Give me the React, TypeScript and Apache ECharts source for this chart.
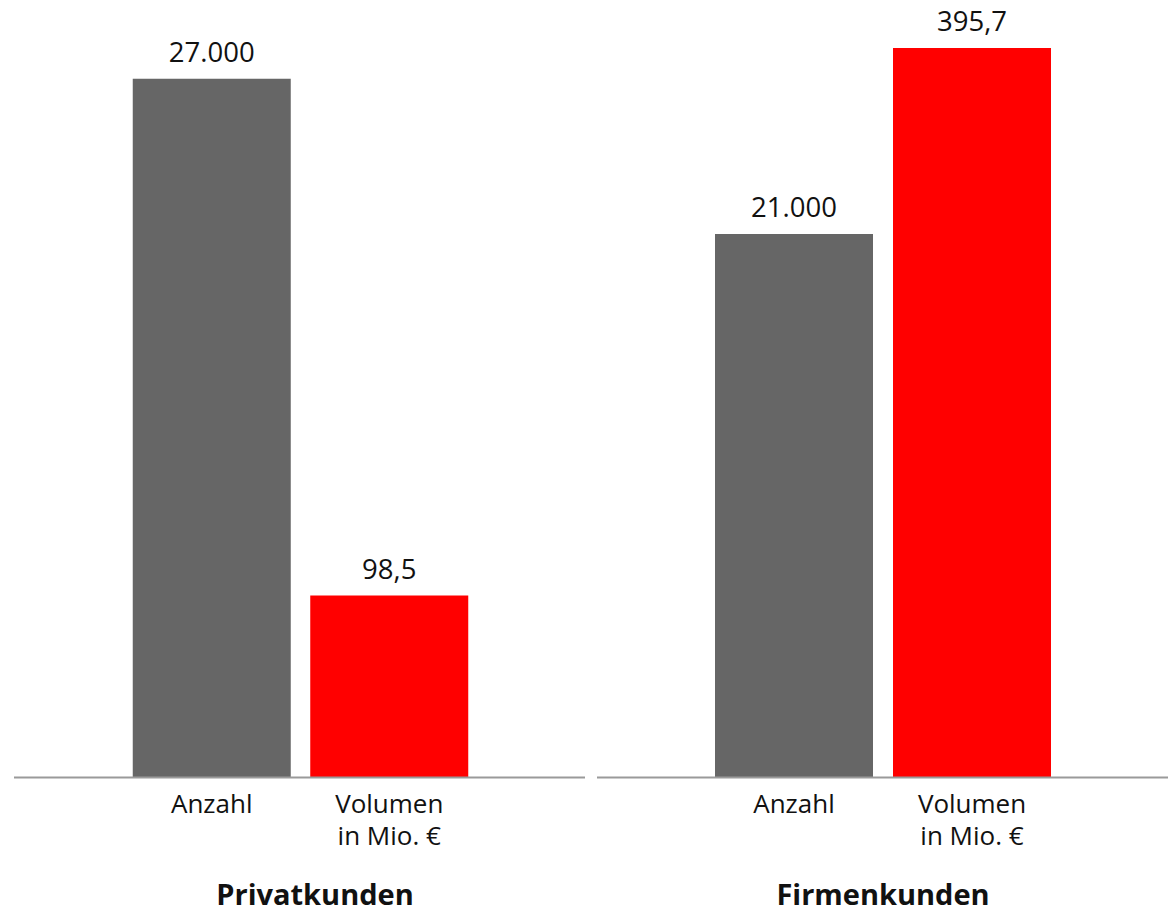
import React, { useEffect, useRef } from "react";
import * as echarts from "echarts";

const panels = ["Privatkunden", "Firmenkunden"];
const categories = ["Anzahl", "Volumen\nin Mio. €"];
const anzahl = [27000, 21000];
const volumen = [98.5, 395.7];
const anzahlMax = 28500;
const volumenMax = 400;

const FONT = "'Open Sans', 'Noto Sans', sans-serif";

const fmtAnzahl = (v: number) => String(Math.round(v)).replace(/\B(?=(\d{3})+(?!\d))/g, ".");
const fmtVol = (v: number) => v.toFixed(1).replace(".", ",");

export default function App() {
  const ref = useRef<HTMLDivElement>(null);
  useEffect(() => {
    document.body.style.margin = "0";
    if (!ref.current) return;
    const chart = echarts.init(ref.current, null, { renderer: "svg" });
    const gridLefts = [123, 705];
    const gridW = [355, 356];
    const titleCenters = [315, 883];
    const axisSpans = [
      [14, 585],
      [597, 1168],
    ];
    const grids = panels.map((_, i) => ({ left: gridLefts[i], width: gridW[i], top: 40, bottom: 138 }));
    const xAxes = panels.map((_, i) => ({
      type: "category",
      gridIndex: i,
      data: categories,
      axisLine: { show: false },
      axisTick: { show: false },
      axisLabel: { fontFamily: FONT, fontSize: 26, color: "#111", lineHeight: 32, margin: 10 },
    }));
    const yAxes: any[] = [];
    panels.forEach((_, i) => {
      yAxes.push({ type: "value", gridIndex: i, min: 0, max: anzahlMax, show: false, splitLine: { show: false } });
      yAxes.push({ type: "value", gridIndex: i, min: 0, max: volumenMax, show: false, splitLine: { show: false } });
    });
    const labelBase = {
      show: true,
      position: "top",
      distance: 13,
      fontFamily: FONT,
      fontSize: 27.5,
      color: "#111",
    };
    const series: any[] = [];
    panels.forEach((_, i) => {
      series.push({
        type: "bar",
        xAxisIndex: i,
        yAxisIndex: i * 2,
        data: [anzahl[i], "-"],
        barWidth: 158,
        barGap: "-100%",
        itemStyle: { color: "#666666" },
        label: { ...labelBase, formatter: (p: any) => fmtAnzahl(p.value) },
      });
      series.push({
        type: "bar",
        xAxisIndex: i,
        yAxisIndex: i * 2 + 1,
        data: ["-", volumen[i]],
        barWidth: 158,
        barGap: "-100%",
        itemStyle: { color: "#ff0000" },
        label: { ...labelBase, formatter: (p: any) => fmtVol(p.value) },
      });
    });
    chart.setOption({
      animation: false,
      title: panels.map((t, i) => ({
        text: t,
        left: titleCenters[i],
        top: 879,
        textAlign: "center",
        padding: 0,
        textStyle: { fontFamily: FONT, fontSize: 29, fontWeight: "bold", color: "#111" },
      })),
      grid: grids,
      xAxis: xAxes,
      yAxis: yAxes,
      series,
      graphic: axisSpans.map((s) => ({
        type: "line",
        z: 10,
        shape: { x1: s[0], y1: 777.5, x2: s[1], y2: 777.5 },
        style: { stroke: "#9a9a9a", lineWidth: 2 },
      })),
    });
    return () => chart.dispose();
  }, []);
  return <div ref={ref} style={{ width: 1169, height: 915 }} />;
}
